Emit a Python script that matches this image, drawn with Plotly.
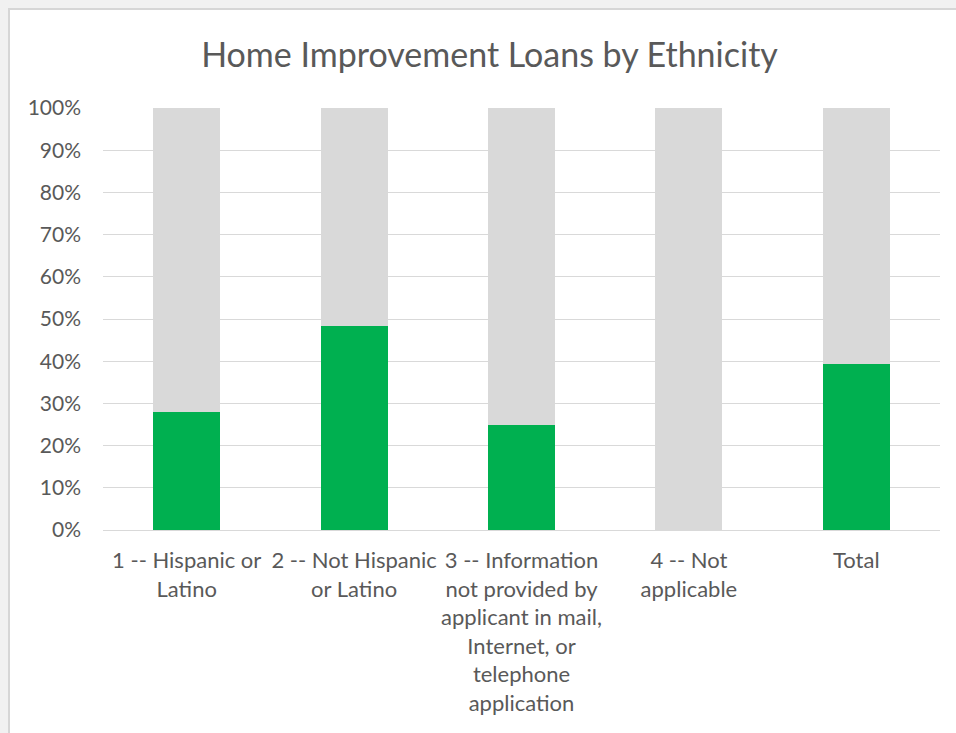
import plotly.graph_objects as go

# Chart data: share of home improvement loans per ethnicity group (percent)
categories = [
    "1 -- Hispanic or<br>Latino",
    "2 -- Not Hispanic<br>or Latino",
    "3 -- Information<br>not provided by<br>applicant in mail,<br>Internet, or<br>telephone<br>application",
    "4 -- Not<br>applicable",
    "Total",
]
share_green = [28.0, 48.4, 25.0, 0.0, 39.3]
share_gray = [72.0, 51.6, 75.0, 100.0, 60.7]
y_tick_values = [0, 10, 20, 30, 40, 50, 60, 70, 80, 90, 100]
y_tick_labels = ["0%", "10%", "20%", "30%", "40%", "50%", "60%", "70%", "80%", "90%", "100%"]

W, H = 956, 733
L, R, T, B = 103, 16, 108, 203
plot_w = W - L - R
plot_h = H - T - B

FONT = "Lato"
TEXT = "#595959"

fig = go.Figure()
fig.add_trace(go.Bar(x=categories, y=share_green, marker=dict(color="#00B050", line=dict(width=0)),
                     width=0.4, name="green"))
fig.add_trace(go.Bar(x=categories, y=share_gray, marker=dict(color="#D9D9D9", line=dict(width=0)),
                     width=0.4, name="gray"))

# white chart frame on a light backdrop
def px_x(px):
    return (px - L) / plot_w

def px_y(py):
    return (H - B - py) / plot_h

fig.add_shape(type="rect", xref="paper", yref="paper", layer="below",
              x0=px_x(9), x1=px_x(W + 10), y0=px_y(H + 10), y1=px_y(9),
              fillcolor="white", line=dict(color="#d6d6d6", width=2))

fig.update_layout(
    width=W, height=H,
    margin=dict(l=L, r=R, t=T, b=B),
    barmode="stack",
    showlegend=False,
    paper_bgcolor="#f1f1f1",
    plot_bgcolor="white",
    font=dict(family=FONT, color=TEXT),
    title=dict(text="Home Improvement Loans by Ethnicity", x=489.5 / W, xanchor="center",
               y=1 - 55 / H, yanchor="middle", font=dict(family=FONT, size=34, color=TEXT)),
    xaxis=dict(showgrid=False, zeroline=False, showline=False, ticks="",
               tickfont=dict(family=FONT, size=22, color=TEXT), tickangle=0,
               ticklabelstandoff=15),
    yaxis=dict(range=[0, 100], tickvals=y_tick_values, ticktext=y_tick_labels,
               showgrid=True, gridcolor="#d9d9d9", gridwidth=1,
               zeroline=True, zerolinecolor="#d9d9d9", zerolinewidth=1,
               showline=False, ticks="", ticklabelstandoff=21,
               tickfont=dict(family=FONT, size=21, color=TEXT)),
)

fig.write_html("out.html")
